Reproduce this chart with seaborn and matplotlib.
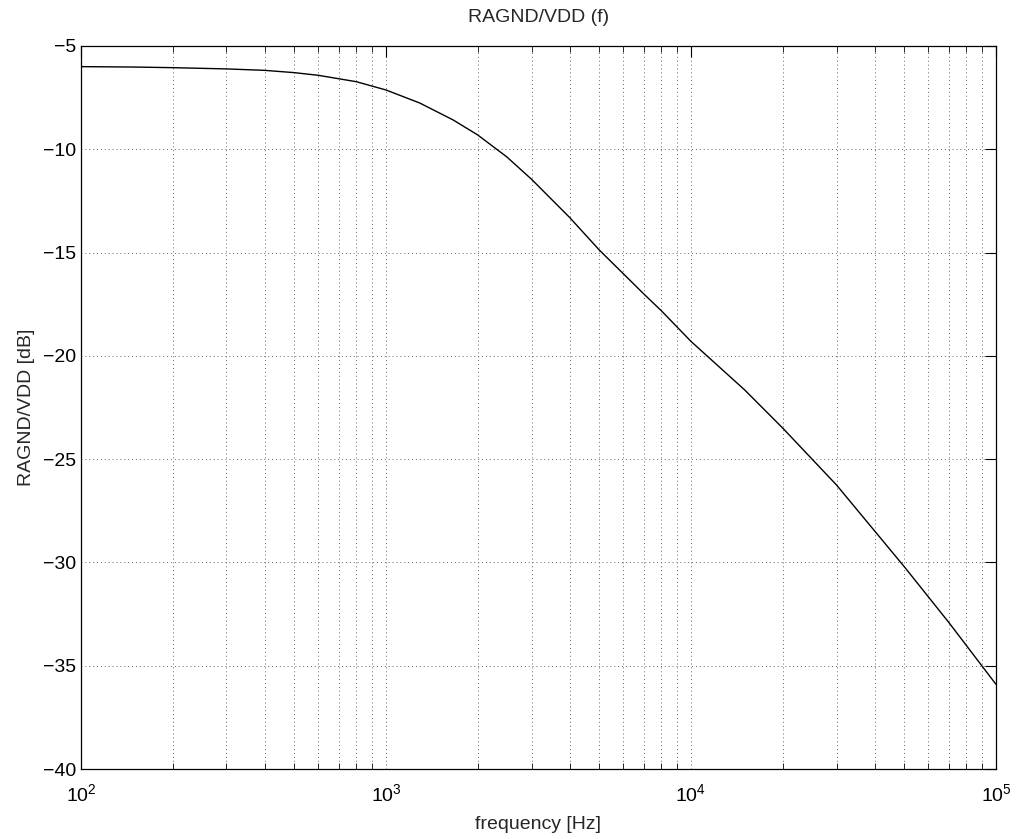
import numpy as np
import pandas as pd
import matplotlib
matplotlib.use("Agg")
import matplotlib.pyplot as plt
import seaborn as sns
from matplotlib.ticker import LogLocator, FixedLocator

freq_hz = [100, 150, 200, 300, 400, 500, 600, 800, 1000, 1290, 1660, 2000, 2490, 3000,
           4000, 5000, 7000, 8000, 10000, 15000, 20000, 30000, 50000, 70000, 100000]
gain_db = [-6.0, -6.02, -6.05, -6.11, -6.18, -6.29, -6.42, -6.73, -7.13, -7.76, -8.58,
           -9.31, -10.37, -11.45, -13.3, -14.87, -17.0, -17.82, -19.3, -21.65, -23.5,
           -26.25, -30.2, -32.9, -35.9]
y_ticks = [-40, -35, -30, -25, -20, -15, -10, -5]

title_text = "RAGND/VDD (f)"
x_label = "frequency [Hz]"
y_label = "RAGND/VDD [dB]"

sns.set_style("white")
plt.rcParams['font.family'] = ['Liberation Sans', 'DejaVu Sans']
plt.rcParams['mathtext.fontset'] = 'custom'
plt.rcParams['mathtext.rm'] = 'Liberation Sans'
plt.rcParams['mathtext.it'] = 'Liberation Sans'

df = pd.DataFrame({"f": freq_hz, "g": gain_db})

fig = plt.figure(figsize=(10.16, 8.39), dpi=100)
ax = fig.add_axes([0.0797, 0.0834, 0.9006, 0.8618])

sns.lineplot(data=df, x="f", y="g", ax=ax, color="black", linewidth=1.0)
ax.set_xscale("log")
ax.set_xlim(1e2, 1e5)
ax.set_ylim(-40, -5)
ax.yaxis.set_major_locator(FixedLocator(y_ticks))
ax.xaxis.set_major_locator(LogLocator(base=10, numticks=10))
ax.xaxis.set_minor_locator(LogLocator(base=10, subs=np.arange(2, 10), numticks=20))

grid_kw = dict(color="0.4", linestyle=(0, (1, 3)), linewidth=0.7)
ax.grid(True, which="major", axis="both", **grid_kw)
ax.grid(True, which="minor", axis="x", **grid_kw)

for s in ax.spines.values():
    s.set_visible(True)
    s.set_color("black")
    s.set_linewidth(0.9)

ax.tick_params(axis="both", which="major", direction="in", length=8, width=0.8,
               top=True, right=True, labelsize=14, colors="black")
ax.tick_params(axis="x", which="minor", direction="in", length=4, width=0.7,
               top=True, bottom=True)
ax.tick_params(axis="x", which="major", pad=10)

ax.set_title(title_text, fontsize=14, pad=17)
ax.set_xlabel(x_label, fontsize=14, labelpad=8)
ax.set_ylabel(y_label, fontsize=14, labelpad=6)

fig.savefig("out.png", dpi=100, facecolor="white")
